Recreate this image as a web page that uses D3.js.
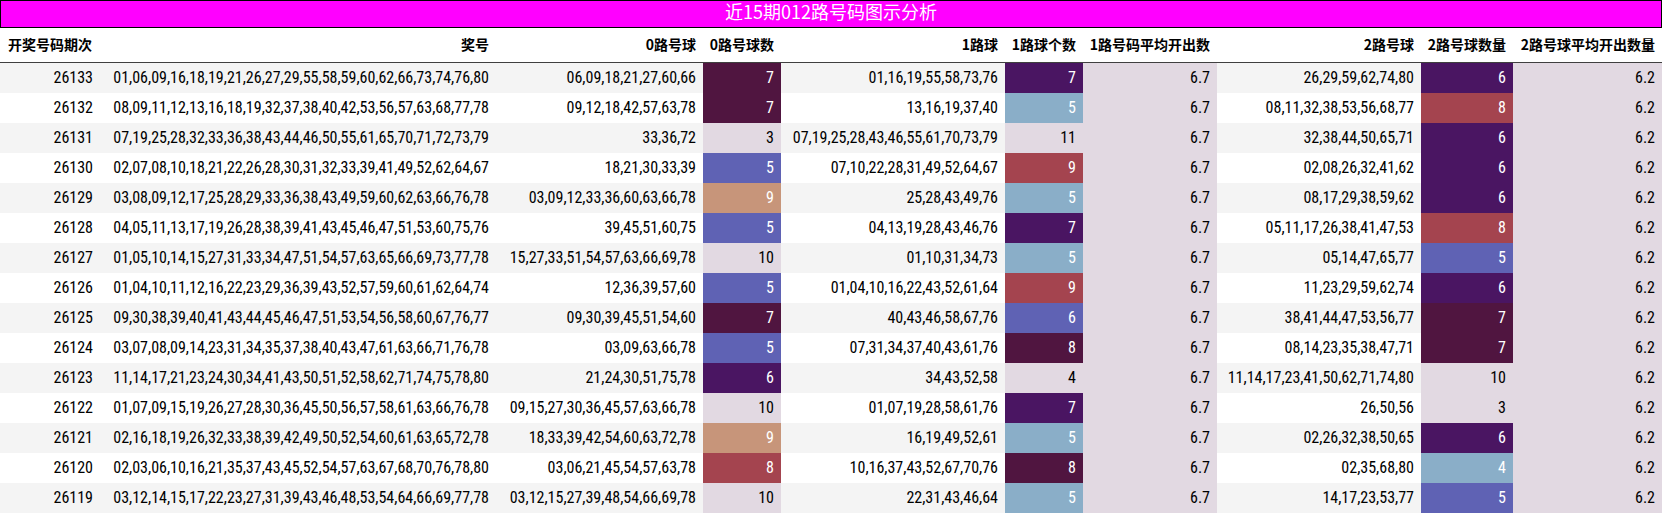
<!DOCTYPE html>
<html><head><meta charset="utf-8">
<script src="https://cdnjs.cloudflare.com/ajax/libs/d3/7.8.5/d3.min.js"></script>
<style>body{margin:0;background:#fff}</style></head>
<body><svg id="c" width="1662" height="515"></svg>
<script>
const title = "近15期012路号码图示分析";
const headers = ["开奖号码期次","奖号","0路号球","0路号球数","1路球","1路球个数","1路号码平均开出数","2路号球","2路号球数量","2路号球平均开出数量"];
const periods = [26133,26132,26131,26130,26129,26128,26127,26126,26125,26124,26123,26122,26121,26120,26119];
const draws = [
"01,06,09,16,18,19,21,26,27,29,55,58,59,60,62,66,73,74,76,80",
"08,09,11,12,13,16,18,19,32,37,38,40,42,53,56,57,63,68,77,78",
"07,19,25,28,32,33,36,38,43,44,46,50,55,61,65,70,71,72,73,79",
"02,07,08,10,18,21,22,26,28,30,31,32,33,39,41,49,52,62,64,67",
"03,08,09,12,17,25,28,29,33,36,38,43,49,59,60,62,63,66,76,78",
"04,05,11,13,17,19,26,28,38,39,41,43,45,46,47,51,53,60,75,76",
"01,05,10,14,15,27,31,33,34,47,51,54,57,63,65,66,69,73,77,78",
"01,04,10,11,12,16,22,23,29,36,39,43,52,57,59,60,61,62,64,74",
"09,30,38,39,40,41,43,44,45,46,47,51,53,54,56,58,60,67,76,77",
"03,07,08,09,14,23,31,34,35,37,38,40,43,47,61,63,66,71,76,78",
"11,14,17,21,23,24,30,34,41,43,50,51,52,58,62,71,74,75,78,80",
"01,07,09,15,19,26,27,28,30,36,45,50,56,57,58,61,63,66,76,78",
"02,16,18,19,26,32,33,38,39,42,49,50,52,54,60,61,63,65,72,78",
"02,03,06,10,16,21,35,37,43,45,52,54,57,63,67,68,70,76,78,80",
"03,12,14,15,17,22,23,27,31,39,43,46,48,53,54,64,66,69,77,78"];
const r0 = ["06,09,18,21,27,60,66","09,12,18,42,57,63,78","33,36,72","18,21,30,33,39","03,09,12,33,36,60,63,66,78","39,45,51,60,75","15,27,33,51,54,57,63,66,69,78","12,36,39,57,60","09,30,39,45,51,54,60","03,09,63,66,78","21,24,30,51,75,78","09,15,27,30,36,45,57,63,66,78","18,33,39,42,54,60,63,72,78","03,06,21,45,54,57,63,78","03,12,15,27,39,48,54,66,69,78"];
const c0 = [7,7,3,5,9,5,10,5,7,5,6,10,9,8,10];
const r1 = ["01,16,19,55,58,73,76","13,16,19,37,40","07,19,25,28,43,46,55,61,70,73,79","07,10,22,28,31,49,52,64,67","25,28,43,49,76","04,13,19,28,43,46,76","01,10,31,34,73","01,04,10,16,22,43,52,61,64","40,43,46,58,67,76","07,31,34,37,40,43,61,76","34,43,52,58","01,07,19,28,58,61,76","16,19,49,52,61","10,16,37,43,52,67,70,76","22,31,43,46,64"];
const c1 = [7,5,11,9,5,7,5,9,6,8,4,7,5,8,5];
const avg1 = 6.7;
const r2 = ["26,29,59,62,74,80","08,11,32,38,53,56,68,77","32,38,44,50,65,71","02,08,26,32,41,62","08,17,29,38,59,62","05,11,17,26,38,41,47,53","05,14,47,65,77","11,23,29,59,62,74","38,41,44,47,53,56,77","08,14,23,35,38,47,71","11,14,17,23,41,50,62,71,74,80","26,50,56","02,26,32,38,50,65","02,35,68,80","14,17,23,53,77"];
const c2 = [6,8,6,6,6,8,5,6,7,7,10,3,6,4,5];
const avg2 = 6.2;

const edges = [0,100,496,703,781,1005,1083,1217,1421,1513,1662];
const svg = d3.select("#c");
const titleH = 27, headH = 36, rowH = 30;
const y = d3.scaleBand().domain(d3.range(periods.length)).range([titleH+headH, titleH+headH+rowH*periods.length]);
const stops = ["#e2d9e2","#8aaec8","#5f62b4","#4a1562","#501540","#a4444f","#c7957a","#e2d9e2"];
const cmap = d3.interpolateRgbBasisClosed ? d3.piecewise(d3.interpolateRgb, stops) : null;
function scaleFor(arr){ return d3.scaleSequential(cmap).domain(d3.extent(arr)); }
const s0 = scaleFor(c0), s1 = scaleFor(c1), s2 = scaleFor(c2);
const font = "'Liberation Sans Narrow','Roboto Condensed','Noto Sans CJK SC',sans-serif";

svg.append("rect").attr("x",0.5).attr("y",0.5).attr("width",1661).attr("height",titleH).attr("fill","#ff00ff").attr("stroke","#000");
svg.append("text").attr("x",831).attr("y",titleH/2+1).attr("text-anchor","middle").attr("dominant-baseline","middle")
  .attr("fill","#fff").attr("font-size",18).attr("font-family","'Noto Sans CJK SC',"+font).text(title);

headers.forEach((h,i)=>{
  svg.append("text").attr("x", i===0 ? 8 : edges[i+1]-7).attr("y", titleH+headH/2+1)
    .attr("text-anchor", i===0?"start":"end").attr("dominant-baseline","middle")
    .attr("font-weight","bold").attr("font-size",14).attr("font-family","'Noto Sans CJK SC',sans-serif").text(h);
});
svg.append("line").attr("x1",0).attr("x2",1662).attr("y1",titleH+headH).attr("y2",titleH+headH).attr("stroke","#000").attr("stroke-width",1.5);

const rows = periods.map((p,i)=>[p,draws[i],r0[i],c0[i],r1[i],c1[i],avg1.toFixed(1),r2[i],c2[i],avg2.toFixed(1)]);
const scales = {3:s0,5:s1,8:s2};
rows.forEach((row,i)=>{
  const yy = y(i);
  svg.append("rect").attr("x",0).attr("y",yy).attr("width",1662).attr("height",rowH).attr("fill", i%2===0?"#f4f4f4":"#ffffff");
  row.forEach((v,j)=>{
    let bg=null;
    if (scales[j]) bg = scales[j](v);
    if (j===6||j===9) bg = "#e2d9e2";
    let tc = "#000";
    if (bg){
      svg.append("rect").attr("x",edges[j]).attr("y",yy).attr("width",edges[j+1]-edges[j]).attr("height",rowH).attr("fill",bg);
      const c = d3.hcl(bg); if (c.l < 75) tc = "#fff";
    }
    svg.append("text").attr("x",edges[j+1]-7).attr("y",yy+rowH/2+1).attr("text-anchor","end").attr("dominant-baseline","middle")
      .attr("fill",tc).attr("font-size",16).attr("font-family",font).text(v);
  });
});
</script></body></html>
